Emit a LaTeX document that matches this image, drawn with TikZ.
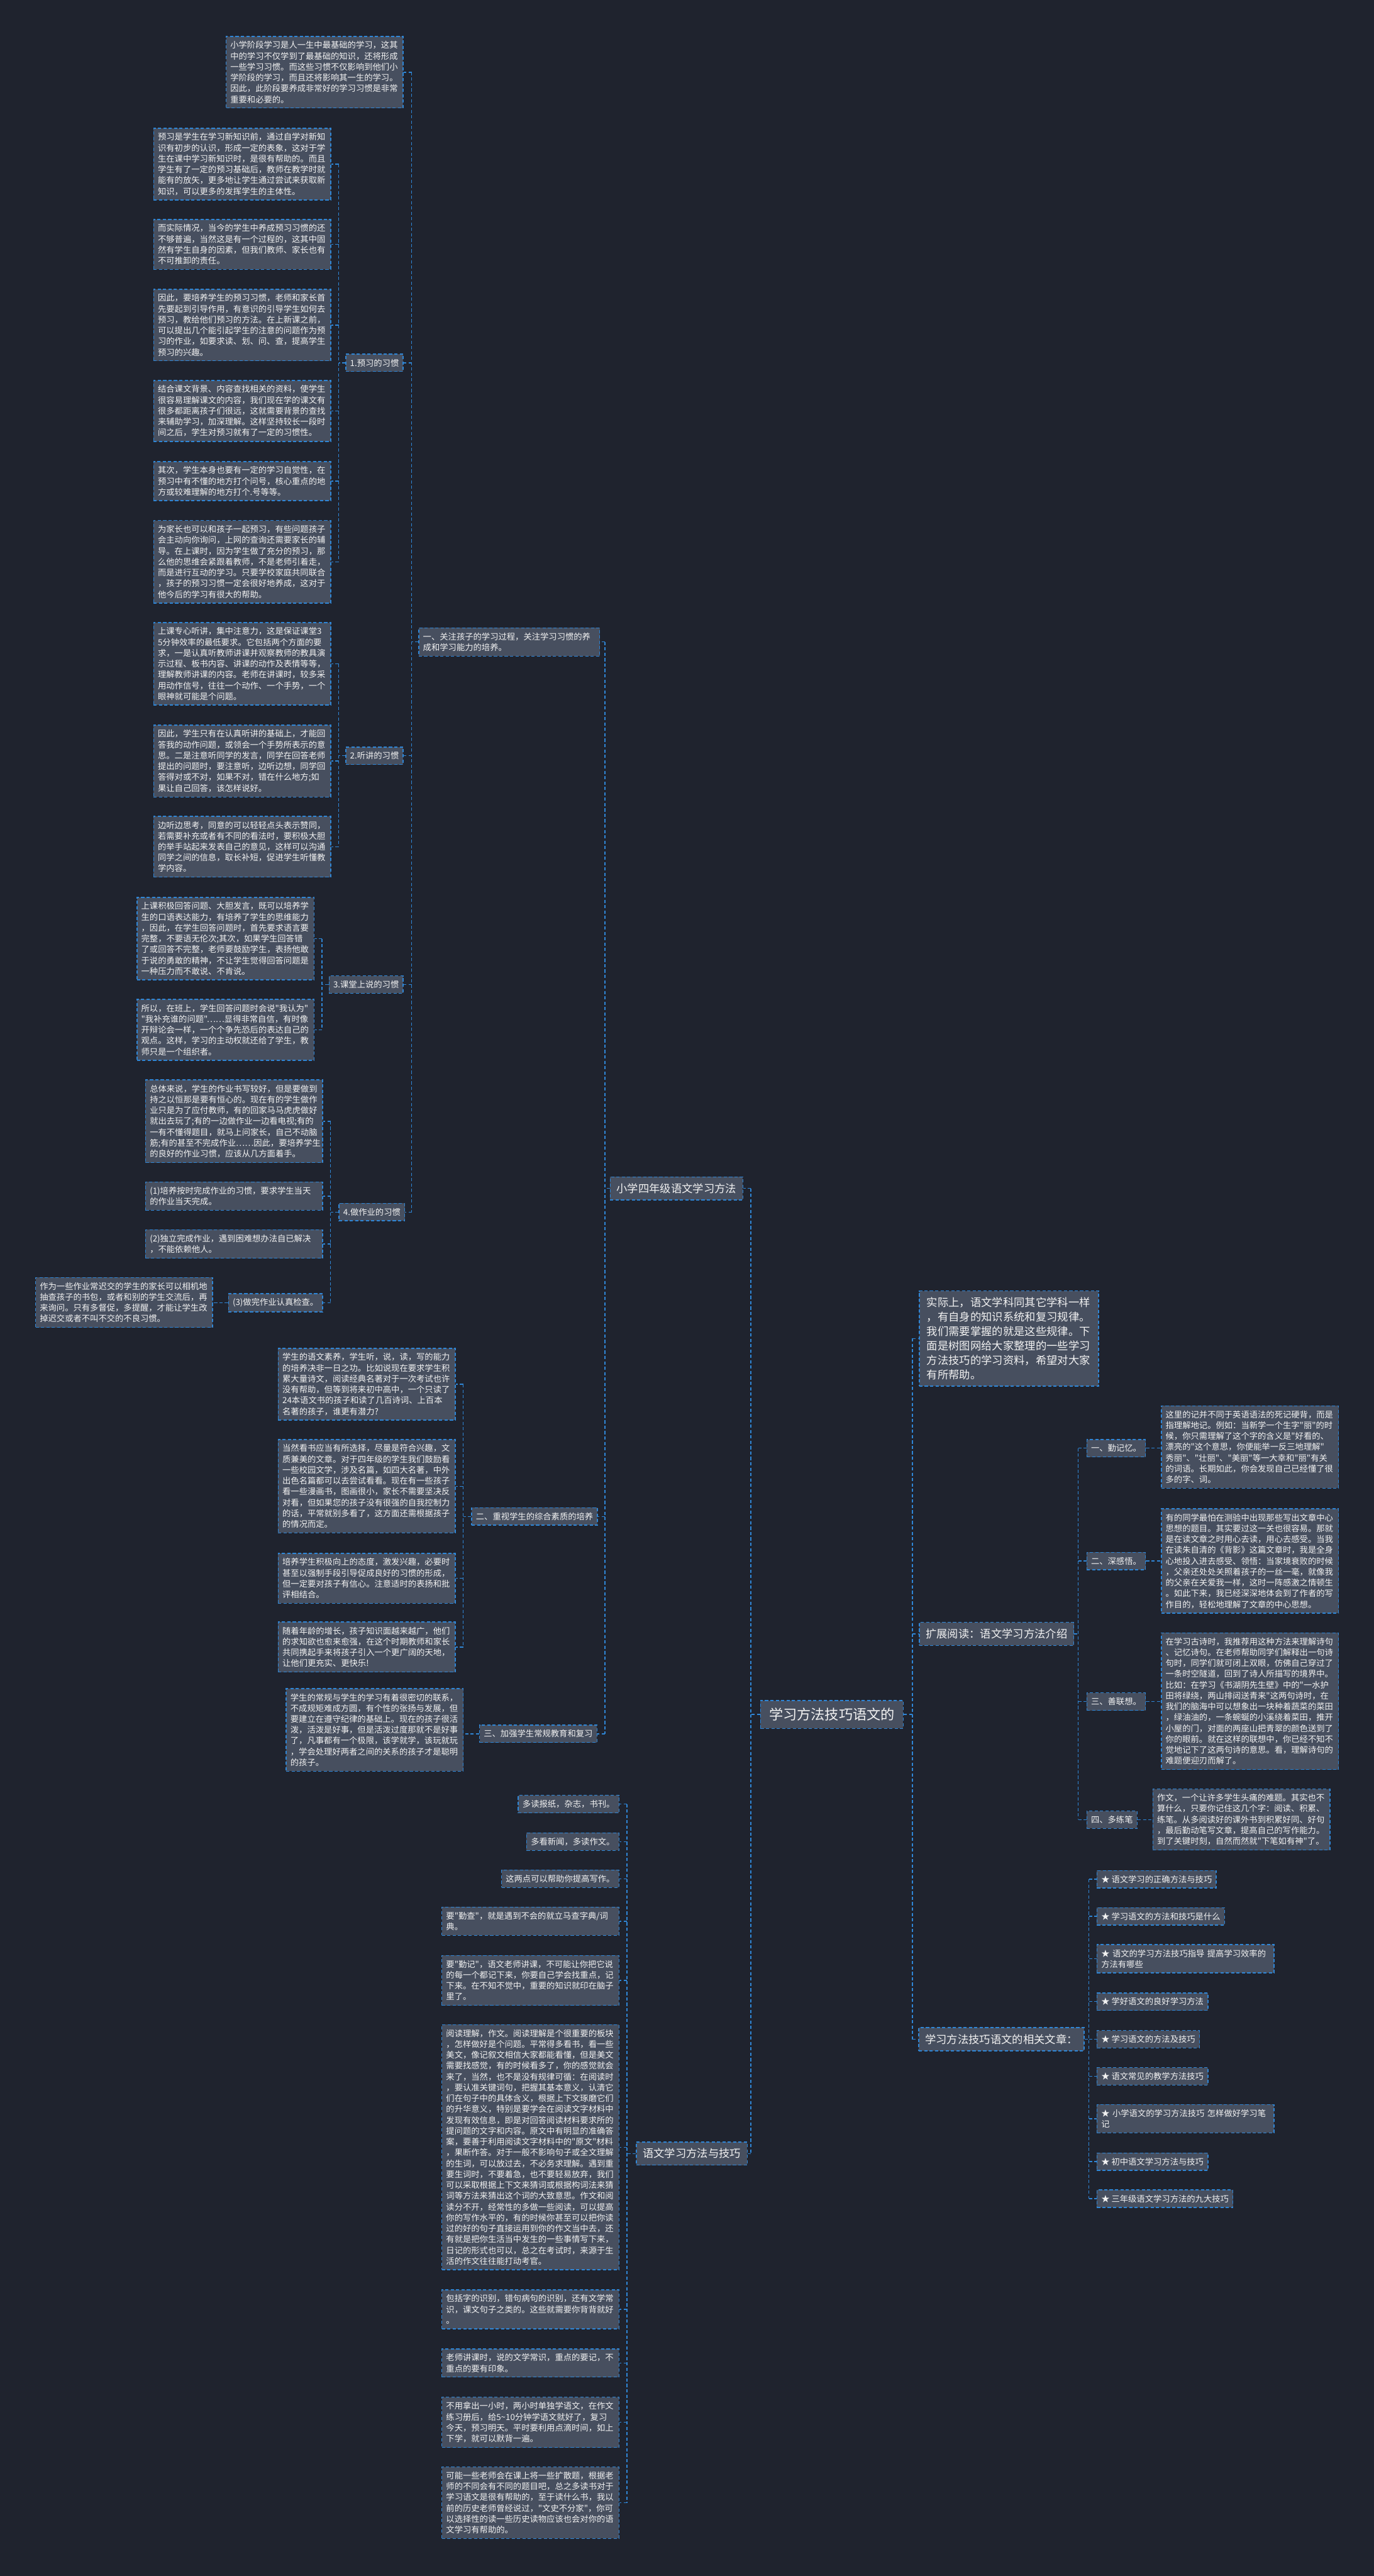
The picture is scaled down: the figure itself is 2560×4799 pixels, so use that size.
\documentclass[tikz,border=0pt]{standalone}
\usepackage{fontspec}
\newfontfamily\cnfont{Noto Sans CJK SC}
\newcommand{\cnsmall}{\cnfont\fontsize{15.6pt}{20.2pt}\selectfont}
\newcommand{\cnbig}{\cnfont\fontsize{20.3pt}{26.9pt}\selectfont}
\newcommand{\cnroot}{\cnfont\fontsize{26pt}{32pt}\selectfont}
\definecolor{bgcol}{HTML}{1F232E}
\definecolor{boxcol}{HTML}{474F5F}
\definecolor{linecol}{HTML}{2F86D6}
\definecolor{txtcol}{HTML}{F2F2F2}

\begin{document}
\begin{tikzpicture}[x=1pt, y=-1pt,
  frame/.style={draw=linecol, fill=boxcol, dash pattern=on 6pt off 4pt, line width=1.6pt,
    text=txtcol, font=\cnsmall, align=left, inner xsep=8pt, inner ysep=9pt},
  box/.style={frame, text width=314pt},
  bigtag/.style={frame, font=\cnbig, inner xsep=12pt, inner ysep=12pt},
  link/.style={draw=linecol, dash pattern=on 6pt off 4pt, line width=1.6pt}]

  \fill[bgcol] (0,0) rectangle (2560,4799);
  \useasboundingbox (0,0) rectangle (2560,4799);

  % root and first level
  \node[frame, font=\cnroot, inner xsep=16pt, inner ysep=14pt] (root) at (1550,3194) {学习方法技巧语文的};
  \node[bigtag, anchor=east] (xs) at (1385,2214) {小学四年级语文学习方法};
  \node[bigtag, anchor=east] (jq) at (1393,4012) {语文学习方法与技巧};
  \node[frame, font=\cnbig, inner xsep=14pt, inner ysep=12pt, text width=306pt, anchor=north west] (intro) at (1712,2404)
    {实际上，语文学科同其它学科一样\\，有自身的知识系统和复习规律。\\我们需要掌握的就是这些规律。下\\面是树图网给大家整理的一些学习\\方法技巧的学习资料，希望对大家\\有所帮助。};
  \node[bigtag, anchor=west] (kz) at (1712,3044) {扩展阅读：语文学习方法介绍};
  \node[bigtag, anchor=west] (xg) at (1711,3799) {学习方法技巧语文的相关文章：};

  % sections of the left branch
  \node[frame, text width=321pt, anchor=east] (sec1) at (1118,1196)
    {一、关注孩子的学习过程，关注学习习惯的养\\成和学习能力的培养。};
  \node[frame, anchor=east] (sec2) at (1114,2825) {二、重视学生的综合素质的培养};
  \node[frame, anchor=east] (sec3) at (1113,3230) {三、加强学生常规教育和复习};

  \node[box, anchor=north east] (top) at (752,67)
    {小学阶段学习是人一生中最基础的学习，这其\\中的学习不仅学到了最基础的知识，还将形成\\一些学习习惯。而这些习惯不仅影响到他们小\\学阶段的学习，而且还将影响其一生的学习。\\因此，此阶段要养成非常好的学习习惯是非常\\重要和必要的。};
  \node[frame, anchor=east] (hab1) at (752,676) {1.预习的习惯};
  \node[frame, anchor=east] (hab2) at (752,1408) {2.听讲的习惯};
  \node[frame, anchor=east] (hab3) at (752,1834) {3.课堂上说的习惯};
  \node[frame, anchor=east] (hab4) at (755,2258) {4.做作业的习惯};

  % 1. preview
  \node[box, anchor=north east] (yuxi1) at (617,238)
    {预习是学生在学习新知识前，通过自学对新知\\识有初步的认识，形成一定的表象，这对于学\\生在课中学习新知识时，是很有帮助的。而且\\学生有了一定的预习基础后，教师在教学时就\\能有的放矢，更多地让学生通过尝试来获取新\\知识，可以更多的发挥学生的主体性。};
  \node[box, anchor=north east] (yuxi2) at (617,408)
    {而实际情况，当今的学生中养成预习习惯的还\\不够普遍，当然这是有一个过程的，这其中固\\然有学生自身的因素，但我们教师、家长也有\\不可推卸的责任。};
  \node[box, anchor=north east] (yuxi3) at (617,538)
    {因此，要培养学生的预习习惯，老师和家长首\\先要起到引导作用，有意识的引导学生如何去\\预习，教给他们预习的方法。在上新课之前，\\可以提出几个能引起学生的注意的问题作为预\\习的作业，如要求读、划、问、查，提高学生\\预习的兴趣。};
  \node[box, anchor=north east] (yuxi4) at (617,708)
    {结合课文背景、内容查找相关的资料，使学生\\很容易理解课文的内容，我们现在学的课文有\\很多都距离孩子们很远，这就需要背景的查找\\来辅助学习，加深理解。这样坚持较长一段时\\间之后，学生对预习就有了一定的习惯性。};
  \node[box, anchor=north east] (yuxi5) at (617,859)
    {其次，学生本身也要有一定的学习自觉性，在\\预习中有不懂的地方打个问号，核心重点的地\\方或较难理解的地方打个.号等等。};
  \node[box, anchor=north east] (yuxi6) at (617,969)
    {为家长也可以和孩子一起预习，有些问题孩子\\会主动向你询问，上网的查询还需要家长的辅\\导。在上课时，因为学生做了充分的预习，那\\么他的思维会紧跟着教师，不是老师引着走，\\而是进行互动的学习。只要学校家庭共同联合\\，孩子的预习习惯一定会很好地养成，这对于\\他今后的学习有很大的帮助。};

  % 2. listening
  \node[box, anchor=north east] (ting1) at (617,1159)
    {上课专心听讲，集中注意力，这是保证课堂3\\5分钟效率的最低要求。它包括两个方面的要\\求，一是认真听教师讲课并观察教师的教具演\\示过程、板书内容、讲课的动作及表情等等，\\理解教师讲课的内容。老师在讲课时，较多采\\用动作信号，往往一个动作、一个手势，一个\\眼神就可能是个问题。};
  \node[box, anchor=north east] (ting2) at (617,1350)
    {因此，学生只有在认真听讲的基础上，才能回\\答我的动作问题，或领会一个手势所表示的意\\思。二是注意听同学的发言，同学在回答老师\\提出的问题时，要注意听，边听边想，同学回\\答得对或不对，如果不对，错在什么地方;如\\果让自己回答，该怎样说好。};
  \node[box, anchor=north east] (ting3) at (617,1520)
    {边听边思考，同意的可以轻轻点头表示赞同，\\若需要补充或者有不同的看法时，要积极大胆\\的举手站起来发表自己的意见，这样可以沟通\\同学之间的信息，取长补短，促进学生听懂教\\学内容。};

  % 3. speaking
  \node[box, anchor=north east] (shuo1) at (586,1671)
    {上课积极回答问题、大胆发言，既可以培养学\\生的口语表达能力，有培养了学生的思维能力\\，因此，在学生回答问题时，首先要求语言要\\完整，不要语无伦次;其次，如果学生回答错\\了或回答不完整，老师要鼓励学生，表扬他敢\\于说的勇敢的精神，不让学生觉得回答问题是\\一种压力而不敢说、不肯说。};
  \node[box, anchor=north east] (shuo2) at (586,1861)
    {所以，在班上，学生回答问题时会说"我认为"\\"我补充谁的问题"……显得非常自信，有时像\\开辩论会一样，一个个争先恐后的表达自己的\\观点。这样，学习的主动权就还给了学生，教\\师只是一个组织者。};

  % 4. homework
  \node[box, anchor=north east] (zuoye1) at (602,2011)
    {总体来说，学生的作业书写较好，但是要做到\\持之以恒那是要有恒心的。现在有的学生做作\\业只是为了应付教师，有的回家马马虎虎做好\\就出去玩了;有的一边做作业一边看电视;有的\\一有不懂得题目，就马上问家长，自己不动脑\\筋;有的甚至不完成作业……因此，要培养学生\\的良好的作业习惯，应该从几方面着手。};
  \node[box, anchor=north east] (zuoye2) at (602,2201)
    {(1)培养按时完成作业的习惯，要求学生当天\\的作业当天完成。};
  \node[box, anchor=north east] (zuoye3) at (602,2290)
    {(2)独立完成作业，遇到困难想办法自已解决\\，不能依赖他人。};
  \node[frame, anchor=east] (zuoye4) at (602,2427) {(3)做完作业认真检查。};
  \node[box, anchor=north east] (zuoye5) at (397,2379)
    {作为一些作业常迟交的学生的家长可以相机地\\抽查孩子的书包，或者和别的学生交流后，再\\来询问。只有多督促，多提醒，才能让学生改\\掉迟交或者不叫不交的不良习惯。};

  % section 2
  \node[box, anchor=north east] (suzhi1) at (849,2511)
    {学生的语文素养，学生听，说，读，写的能力\\的培养决非一日之功。比如说现在要求学生积\\累大量诗文，阅读经典名著对于一次考试也许\\没有帮助，但等到将来初中高中，一个只读了\\24本语文书的孩子和读了几百诗词、上百本\\名著的孩子，谁更有潜力?};
  \node[box, anchor=north east] (suzhi2) at (849,2681)
    {当然看书应当有所选择，尽量是符合兴趣，文\\质兼美的文章。对于四年级的学生我们鼓励看\\一些校园文学，涉及名篇，如四大名著，中外\\出色名篇都可以去尝试看看。现在有一些孩子\\看一些漫画书，图画很小，家长不需要坚决反\\对看，但如果您的孩子没有很强的自我控制力\\的话，平常就别多看了，这方面还需根据孩子\\的情况而定。};
  \node[box, anchor=north east] (suzhi3) at (849,2893)
    {培养学生积极向上的态度，激发兴趣，必要时\\甚至以强制手段引导促成良好的习惯的形成，\\但一定要对孩子有信心。注意适时的表扬和批\\评相结合。};
  \node[box, anchor=north east] (suzhi4) at (849,3021)
    {随着年龄的增长，孩子知识面越来越广，他们\\的求知欲也愈来愈强，在这个时期教师和家长\\共同携起手来将孩子引入一个更广阔的天地，\\让他们更充实、更快乐!};

  % section 3
  \node[box, anchor=north east] (changgui) at (864,3145)
    {学生的常规与学生的学习有着很密切的联系，\\不成规矩难成方圆，有个性的张扬与发展，但\\要建立在遵守纪律的基础上。现在的孩子很活\\泼，活泼是好事，但是活泼过度那就不是好事\\了，凡事都有一个极限，该学就学，该玩就玩\\，学会处理好两者之间的关系的孩子才是聪明\\的孩子。};

  % method and skill
  \node[frame, anchor=east] (fa1) at (1154,3361) {多读报纸，杂志，书刊。};
  \node[frame, anchor=east] (fa2) at (1154,3431) {多看新闻，多读作文。};
  \node[frame, anchor=east] (fa3) at (1154,3500) {这两点可以帮助你提高写作。};
  \node[box, anchor=north east] (fa4) at (1154,3552)
    {要"勤查"，就是遇到不会的就立马查字典/词\\典。};
  \node[box, anchor=north east] (fa5) at (1154,3642)
    {要"勤记"，语文老师讲课，不可能让你把它说\\的每一个都记下来，你要自己学会找重点，记\\下来。在不知不觉中，重要的知识就印在脑子\\里了。};
  \node[box, anchor=north east] (fa6) at (1154,3771)
    {阅读理解，作文。阅读理解是个很重要的板块\\，怎样做好是个问题。平常得多看书，看一些\\美文，像记叙文相信大家都能看懂，但是美文\\需要找感觉，有的时候看多了，你的感觉就会\\来了，当然，也不是没有规律可循：在阅读时\\，要认准关键词句，把握其基本意义，认清它\\们在句子中的具体含义，根据上下文琢磨它们\\的升华意义，特别是要学会在阅读文字材料中\\发现有效信息，即是对回答阅读材料要求所的\\提问题的文字和内容。原文中有明显的准确答\\案，要善于利用阅读文字材料中的"原文"材料\\，果断作答。对于一般不影响句子或全文理解\\的生词，可以放过去，不必务求理解。遇到重\\要生词时，不要着急，也不要轻易放弃，我们\\可以采取根据上下文来猜词或根据构词法来猜\\词等方法来猜出这个词的大致意思。作文和阅\\读分不开，经常性的多做一些阅读，可以提高\\你的写作水平的，有的时候你甚至可以把你读\\过的好的句子直接运用到你的作文当中去，还\\有就是把你生活当中发生的一些事情写下来，\\日记的形式也可以，总之在考试时，来源于生\\活的作文往往能打动考官。};
  \node[box, anchor=north east] (fa7) at (1154,4265)
    {包括字的识别，错句病句的识别，还有文学常\\识，课文句子之类的。这些就需要你背背就好\\。};
  \node[box, anchor=north east] (fa8) at (1154,4375)
    {老师讲课时，说的文学常识，重点的要记，不\\重点的要有印象。};
  \node[box, anchor=north east] (fa9) at (1154,4465)
    {不用拿出一小时，两小时单独学语文，在作文\\练习册后，给5\textasciitilde10分钟学语文就好了，复习\\今天，预习明天。平时要利用点滴时间，如上\\下学，就可以默背一遍。};
  \node[box, anchor=north east] (fa10) at (1154,4595)
    {可能一些老师会在课上将一些扩散题，根据老\\师的不同会有不同的题目吧，总之多读书对于\\学习语文是很有帮助的，至于读什么书，我以\\前的历史老师曾经说过，"文史不分家"，你可\\以选择性的读一些历史读物应该也会对你的语\\文学习有帮助的。};

  % extended reading
  \node[frame, anchor=west] (kz1) at (2024,2698) {一、勤记忆。};
  \node[frame, anchor=west] (kz2) at (2024,2908) {二、深感悟。};
  \node[frame, anchor=west] (kz3) at (2024,3170) {三、善联想。};
  \node[frame, anchor=west] (kz4) at (2024,3390) {四、多练笔};
  \node[box, anchor=north west] (ji1) at (2163,2618)
    {这里的记并不同于英语语法的死记硬背，而是\\指理解地记。例如：当新学一个生字"丽"的时\\候，你只需理解了这个字的含义是"好看的、\\漂亮的"这个意思，你便能举一反三地理解"\\秀丽"、"壮丽"、"美丽"等一大幸和"丽"有关\\的词语。长期如此，你会发现自己已经懂了很\\多的字、词。};
  \node[box, anchor=north west] (ji2) at (2163,2810)
    {有的同学最怕在测验中出现那些写出文章中心\\思想的题目。其实要过这一关也很容易。那就\\是在读文章之时用心去读，用心去感受。当我\\在读朱自清的《背影》这篇文章时，我是全身\\心地投入进去感受、领悟：当家境衰败的时候\\，父亲还处处关照着孩子的一丝一毫，就像我\\的父亲在关爱我一样，这时一阵感激之情顿生\\。如此下来，我已经深深地体会到了作者的写\\作目的，轻松地理解了文章的中心思想。};
  \node[box, anchor=north west] (ji3) at (2163,3041)
    {在学习古诗时，我推荐用这种方法来理解诗句\\、记忆诗句。在老师帮助同学们解释出一句诗\\句时，同学们就可闭上双眼，仿佛自己穿过了\\一条时空隧道，回到了诗人所描写的境界中。\\比如：在学习《书湖阴先生壁》中的"一水护\\田将绿绕，两山排闼送青来"这两句诗时，在\\我们的脑海中可以想象出一块种着蔬菜的菜田\\，绿油油的，一条蜿蜒的小溪绕着菜田，推开\\小屋的门，对面的两座山把青翠的颜色送到了\\你的眼前。就在这样的联想中，你已经不知不\\觉地记下了这两句诗的意思。看，理解诗句的\\难题便迎刃而解了。};
  \node[box, anchor=north west] (ji4) at (2147,3332)
    {作文，一个让许多学生头痛的难题。其实也不\\算什么，只要你记住这几个字：阅读、积累、\\练笔。从多阅读好的课外书到积累好同、好句\\，最后勤动笔写文章，提高自己的写作能力。\\到了关键时刻，自然而然就"下笔如有神"了。};

  % related articles
  \node[frame, anchor=west] (art1) at (2043,3501) {★ 语文学习的正确方法与技巧};
  \node[frame, anchor=west] (art2) at (2043,3570) {★ 学习语文的方法和技巧是什么};
  \node[box, anchor=north west] (art3) at (2043,3622) {★ 语文的学习方法技巧指导 提高学习效率的\\方法有哪些};
  \node[frame, anchor=west] (art4) at (2043,3729) {★ 学好语文的良好学习方法};
  \node[frame, anchor=west] (art5) at (2043,3799) {★ 学习语文的方法及技巧};
  \node[frame, anchor=west] (art6) at (2043,3868) {★ 语文常见的教学方法技巧};
  \node[box, anchor=north west] (art7) at (2043,3920) {★ 小学语文的学习方法技巧 怎样做好学习笔\\记};
  \node[frame, anchor=west] (art8) at (2043,4027) {★ 初中语文学习方法与技巧};
  \node[frame, anchor=west] (art9) at (2043,4096) {★ 三年级语文学习方法的九大技巧};

  % x of the vertical lines
  \coordinate (vxs) at (1399,0);
  \coordinate (vsec) at (1127,0);
  \coordinate (v1) at (767,0);
  \coordinate (vh1) at (631,0);
  \coordinate (vh3) at (600,0);
  \coordinate (vh4) at (616,0);
  \coordinate (v2) at (863,0);
  \coordinate (vjq) at (1168,0);
  \coordinate (vr) at (1700,0);
  \coordinate (vkz) at (2009,0);
  \coordinate (vxg) at (2029,0);

  % left side connectors
  \draw[link] (root.west) -- (vxs |- root.west);
  \draw[link] (vxs |- xs.east) -- (vxs |- jq.east);
  \foreach \c in {xs,jq} \draw[link] (vxs |- \c.east) -- (\c.east);

  \draw[link] (xs.west) -- (vsec |- xs.west);
  \draw[link] (vsec |- sec1.east) -- (vsec |- sec3.east);
  \foreach \c in {sec1,sec2,sec3} \draw[link] (vsec |- \c.east) -- (\c.east);

  \draw[link] (sec1.west) -- (v1 |- sec1.west);
  \draw[link] (v1 |- top.east) -- (v1 |- hab4.east);
  \foreach \c in {top,hab1,hab2,hab3,hab4} \draw[link] (v1 |- \c.east) -- (\c.east);

  \draw[link] (hab1.west) -- (vh1 |- hab1.west);
  \draw[link] (vh1 |- yuxi1.east) -- (vh1 |- yuxi6.east);
  \foreach \c in {yuxi1,yuxi2,yuxi3,yuxi4,yuxi5,yuxi6} \draw[link] (vh1 |- \c.east) -- (\c.east);

  \draw[link] (hab2.west) -- (vh1 |- hab2.west);
  \draw[link] (vh1 |- ting1.east) -- (vh1 |- ting3.east);
  \foreach \c in {ting1,ting2,ting3} \draw[link] (vh1 |- \c.east) -- (\c.east);

  \draw[link] (hab3.west) -- (vh3 |- hab3.west);
  \draw[link] (vh3 |- shuo1.east) -- (vh3 |- shuo2.east);
  \foreach \c in {shuo1,shuo2} \draw[link] (vh3 |- \c.east) -- (\c.east);

  \draw[link] (hab4.west) -- (vh4 |- hab4.west);
  \draw[link] (vh4 |- zuoye1.east) -- (vh4 |- zuoye4.east);
  \foreach \c in {zuoye1,zuoye2,zuoye3,zuoye4} \draw[link] (vh4 |- \c.east) -- (\c.east);
  \draw[link] (zuoye4.west) -- (zuoye4.west -| zuoye5.east);

  \draw[link] (sec2.west) -- (v2 |- sec2.west);
  \draw[link] (v2 |- suzhi1.east) -- (v2 |- suzhi4.east);
  \foreach \c in {suzhi1,suzhi2,suzhi3,suzhi4} \draw[link] (v2 |- \c.east) -- (\c.east);

  \draw[link] (sec3.west) -- (sec3.west -| changgui.east);

  \draw[link] (jq.west) -- (vjq |- jq.west);
  \draw[link] (vjq |- fa1.east) -- (vjq |- fa10.east);
  \foreach \c in {fa1,fa2,fa3,fa4,fa5,fa6,fa7,fa8,fa9,fa10} \draw[link] (vjq |- \c.east) -- (\c.east);

  % right side connectors
  \draw[link] (root.east) -- (vr |- root.east);
  \draw[link] (vr |- intro.west) -- (vr |- xg.west);
  \foreach \c in {intro,kz,xg} \draw[link] (vr |- \c.west) -- (\c.west);

  \draw[link] (kz.east) -- (vkz |- kz.east);
  \draw[link] (vkz |- kz1.west) -- (vkz |- kz4.west);
  \foreach \c in {kz1,kz2,kz3,kz4} \draw[link] (vkz |- \c.west) -- (\c.west);
  \draw[link] (kz1.east) -- (kz1.east -| ji1.west);
  \draw[link] (kz2.east) -- (kz2.east -| ji2.west);
  \draw[link] (kz3.east) -- (kz3.east -| ji3.west);
  \draw[link] (kz4.east) -- (kz4.east -| ji4.west);

  \draw[link] (xg.east) -- (vxg |- xg.east);
  \draw[link] (vxg |- art1.west) -- (vxg |- art9.west);
  \foreach \c in {art1,art2,art3,art4,art5,art6,art7,art8,art9} \draw[link] (vxg |- \c.west) -- (\c.west);
\end{tikzpicture}
\end{document}
